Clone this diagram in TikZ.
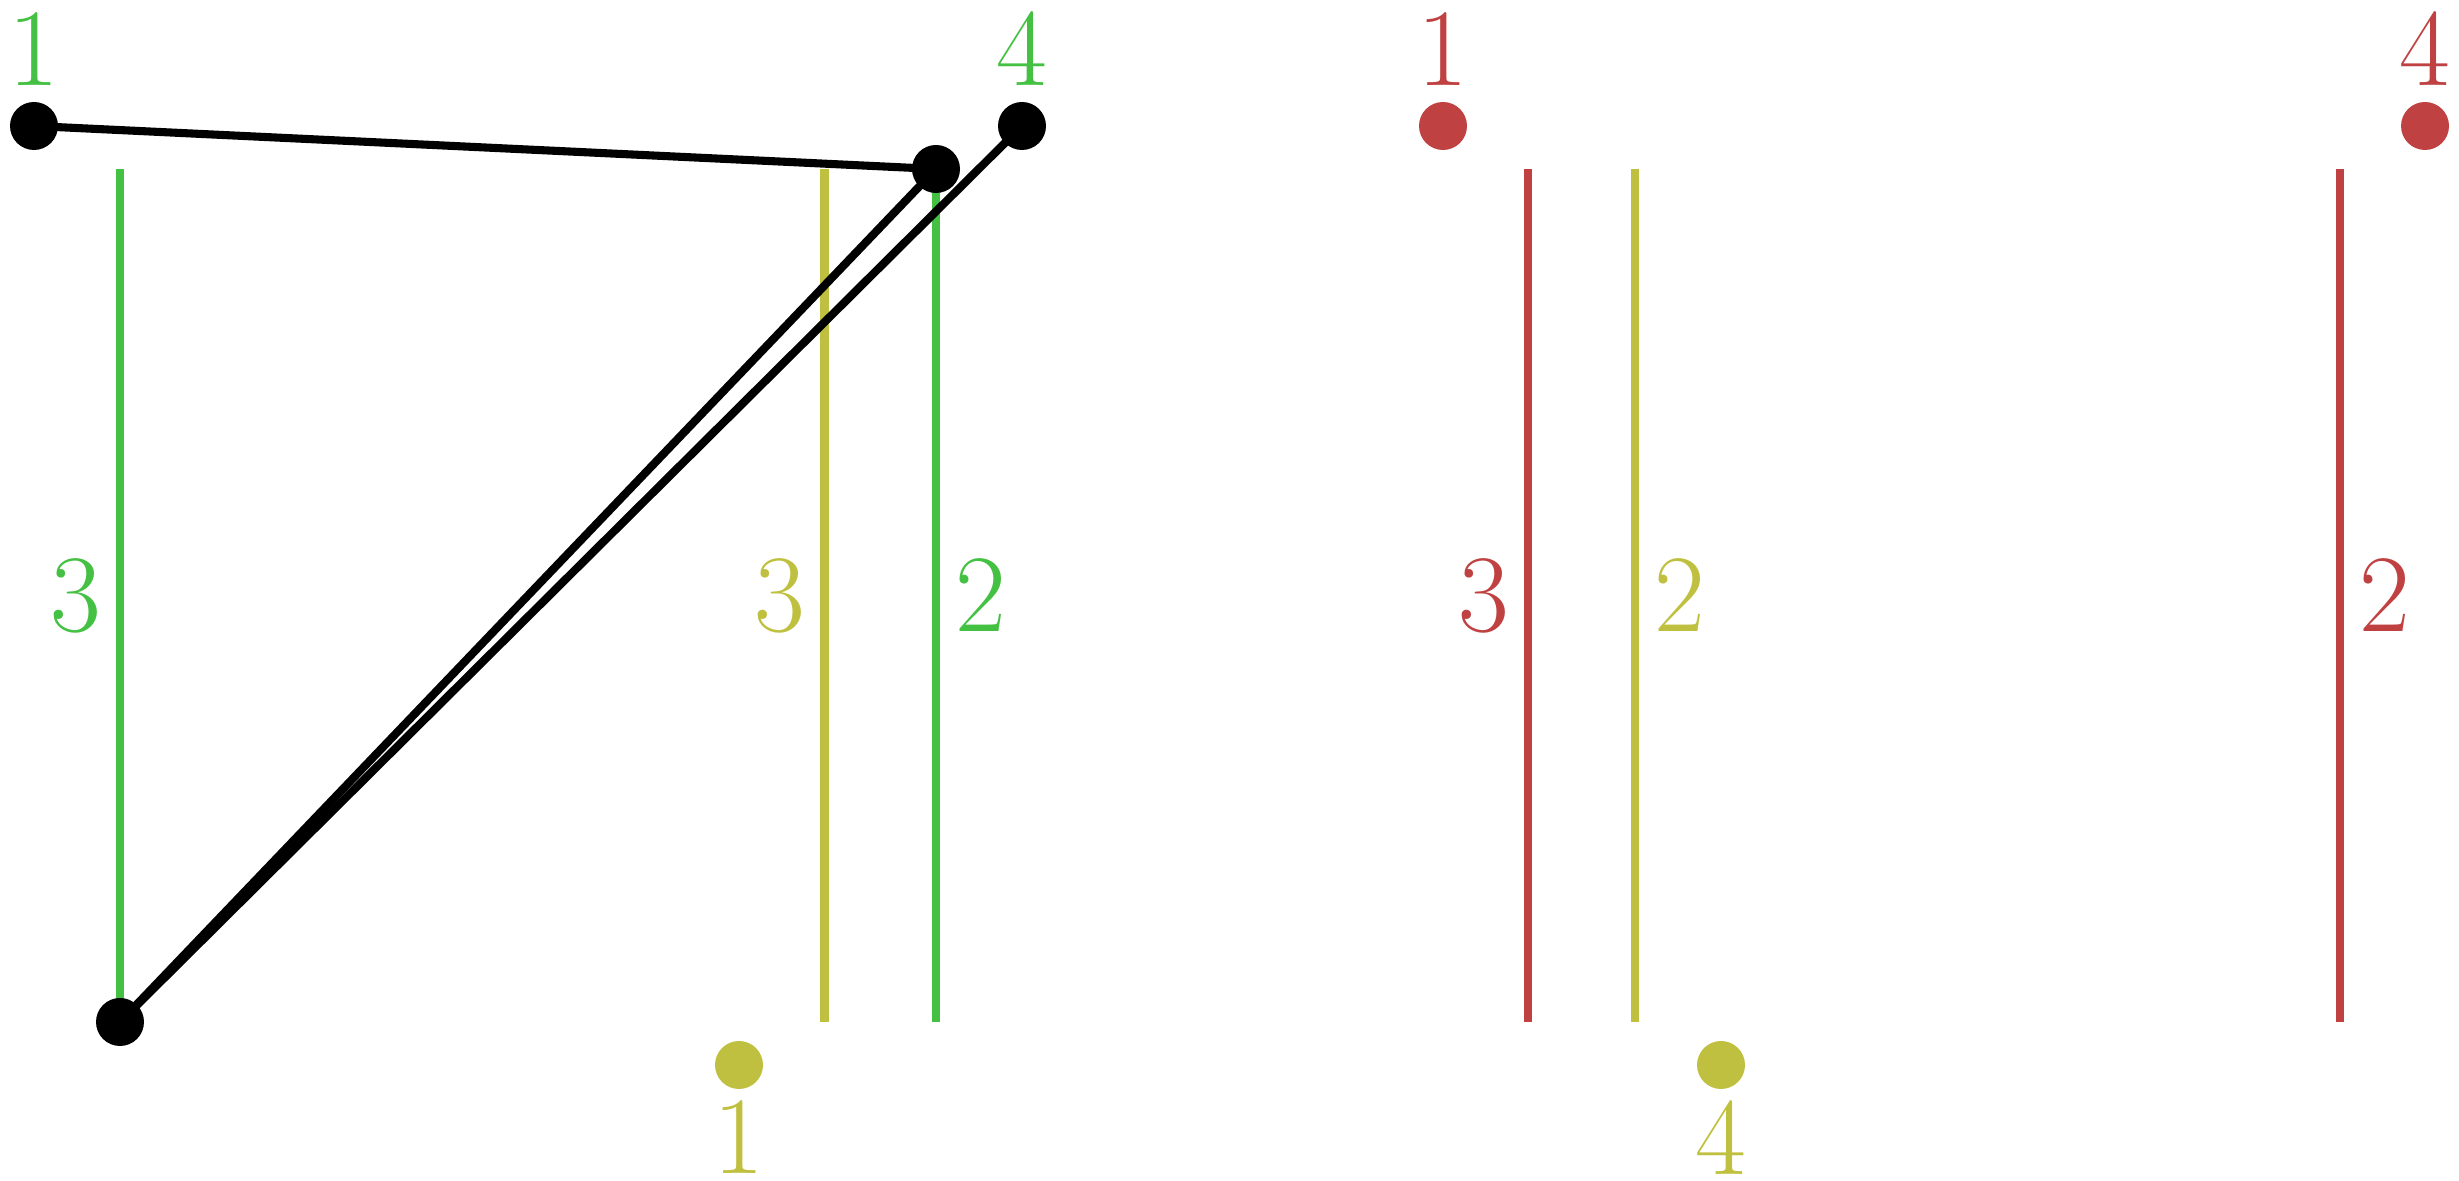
\documentclass[tikz,border=0pt]{standalone}
\usetikzlibrary{positioning}

\definecolor{grn}{RGB}{68,192,66}
\definecolor{olv}{RGB}{192,192,64}
\definecolor{rd}{RGB}{191,65,65}

\begin{document}
\begin{tikzpicture}[
    dot/.style={
        circle,
        fill,
        inner sep=0pt,
        minimum size=4.8mm
    },
    bar/.style={line width=2.3pt},
    edge/.style={line width=2.3pt, black},
    num/.style={inner sep=0pt, font=\fontsize{31.4}{36}\selectfont}
]
\useasboundingbox (0,0) rectangle (24.59,11.81);

% left drawing: bars
\draw[bar, grn] (1.20,10.12) -- node[num, left=1.5mm] (g3) {3} (1.20,1.59);
\draw[bar, olv] (8.245,10.12) -- node[num, left=1.5mm] (o3) {3} (8.245,1.59);
\draw[bar, grn] (9.36,10.12) -- node[num, right=1.5mm] (g2) {2} (9.36,1.59);

% right drawing: bars
\draw[bar, rd] (15.28,10.12) -- node[num, left=1.5mm] (r3) {3} (15.28,1.59);
\draw[bar, olv] (16.35,10.12) -- node[num, right=1.5mm] (o2) {2} (16.35,1.59);
\draw[bar, rd] (23.40,10.12) -- node[num, right=1.5mm] (r2) {2} (23.40,1.59);

\node[dot] (A) at (0.34,10.55) {};
\node[dot] (B) at (10.22,10.55) {};
\node[dot] (C) at (9.36,10.12) {};
\node[dot] (D) at (1.20,1.59) {};
\node[dot, olv] (E) at (7.39,1.16) {};

\node[dot, rd] (F) at (14.43,10.55) {};
\node[dot, rd] (G) at (24.25,10.55) {};
\node[dot, olv] (H) at (17.21,1.16) {};

\draw[edge] (A.center) -- (C.center);
\draw[edge] (C.center) -- (D.center);
\draw[edge] (B.center) -- (D.center);

% vertex labels
\node[num, grn, above=1.5mm of A] (lA) {1};
\node[num, grn, above=1.5mm of B] (lB) {4};
\node[num, olv, below=1.0mm of E] (lE) {1};
\node[num, rd, above=1.5mm of F] (lF) {1};
\node[num, rd, above=1.5mm of G] (lG) {4};
\node[num, olv, below=1.0mm of H] (lH) {4};

\end{tikzpicture}
\end{document}
